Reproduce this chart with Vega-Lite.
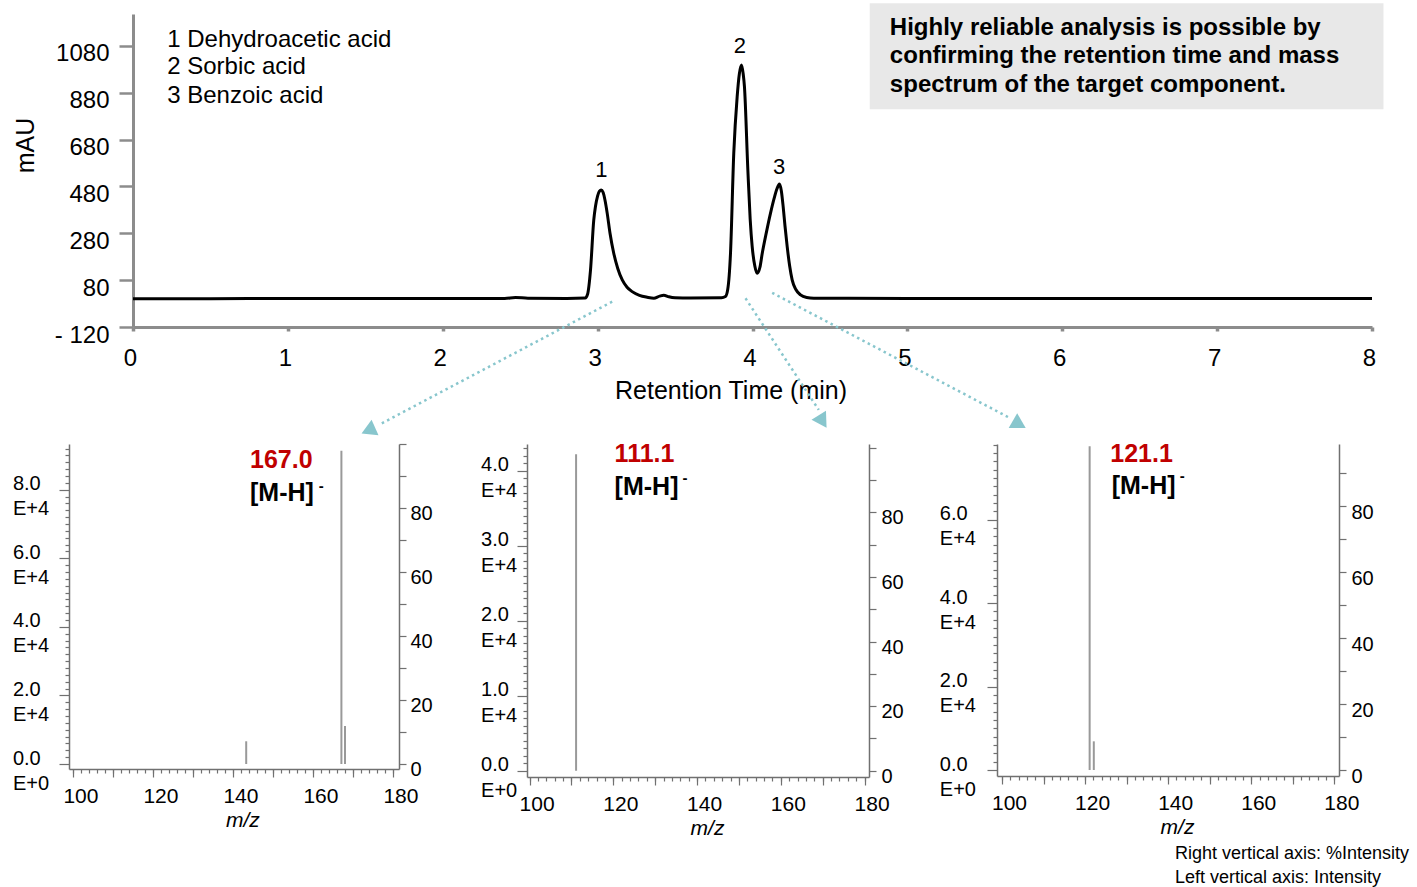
{
  "$schema": "https://vega.github.io/schema/vega-lite/v6.json",
  "background": "white",
  "padding": {"left": 12, "top": 3, "right": 0, "bottom": 0},
  "spacing": -8,
  "config": {
    "view": {"stroke": null},
    "font": "Liberation Sans",
    "axis": {"grid": false, "labelFlush": false, "labelOverlap": false, "labelColor": "#000000", "titleColor": "#000000", "titleFontWeight": "normal", "labelFont": "Liberation Sans", "titleFont": "Liberation Sans"}
  },
  "vconcat": [
    {
      "hconcat": [
        {"width": 44, "height": 10, "data": {"values": [{}]}, "mark": {"type": "point", "opacity": 0}},
        {
          "width": 1239,
          "height": 313,
          "layer": [
            {
              "data": {"values": [
                {"t": 0, "v": 1}, {"t": 0.5, "v": 1}, {"t": 1, "v": 1.5}, {"t": 1.5, "v": 1.5}, {"t": 2, "v": 2}, {"t": 2.4, "v": 2}, {"t": 2.47, "v": 6}, {"t": 2.55, "v": 3}, {"t": 2.8, "v": 2}, {"t": 2.92, "v": 4}, {"t": 2.935, "v": 20}, {"t": 2.954, "v": 123}, {"t": 2.975, "v": 336}, {"t": 2.986, "v": 394}, {"t": 3.0, "v": 440}, {"t": 3.012, "v": 460}, {"t": 3.023, "v": 465}, {"t": 3.035, "v": 455}, {"t": 3.048, "v": 420}, {"t": 3.062, "v": 365}, {"t": 3.08, "v": 280}, {"t": 3.104, "v": 195}, {"t": 3.13, "v": 130}, {"t": 3.159, "v": 81}, {"t": 3.19, "v": 50}, {"t": 3.223, "v": 31}, {"t": 3.27, "v": 15}, {"t": 3.32, "v": 7}, {"t": 3.363, "v": 3}, {"t": 3.4, "v": 12}, {"t": 3.427, "v": 16}, {"t": 3.46, "v": 9}, {"t": 3.5, "v": 5}, {"t": 3.6, "v": 4}, {"t": 3.8, "v": 5}, {"t": 3.825, "v": 10}, {"t": 3.84, "v": 40}, {"t": 3.858, "v": 195}, {"t": 3.879, "v": 621}, {"t": 3.901, "v": 863}, {"t": 3.915, "v": 960}, {"t": 3.929, "v": 998}, {"t": 3.94, "v": 960}, {"t": 3.948, "v": 906}, {"t": 3.97, "v": 550}, {"t": 3.985, "v": 340}, {"t": 3.998, "v": 223}, {"t": 4.015, "v": 140}, {"t": 4.03, "v": 109}, {"t": 4.048, "v": 135}, {"t": 4.063, "v": 195}, {"t": 4.09, "v": 285}, {"t": 4.116, "v": 365}, {"t": 4.14, "v": 430}, {"t": 4.158, "v": 470}, {"t": 4.174, "v": 490}, {"t": 4.186, "v": 462}, {"t": 4.198, "v": 394}, {"t": 4.21, "v": 310}, {"t": 4.224, "v": 223}, {"t": 4.24, "v": 140}, {"t": 4.256, "v": 81}, {"t": 4.28, "v": 40}, {"t": 4.31, "v": 17}, {"t": 4.35, "v": 6}, {"t": 4.396, "v": 3}, {"t": 5, "v": 2}, {"t": 6, "v": 2}, {"t": 7, "v": 2}, {"t": 8, "v": 2}
              ]},
              "mark": {"type": "line", "color": "#000000", "strokeWidth": 3, "interpolate": "monotone", "clip": false},
              "encoding": {
                "x": {"field": "t", "type": "quantitative", "scale": {"domain": [0, 8], "nice": false, "zero": false},
                  "axis": {"values": [0, 1, 2, 3, 4, 5, 6, 7, 8], "format": "d", "labelOverlap": false, "title": "Retention Time (min)", "titleFontSize": 25, "titleX": 597.5, "titleY": 71, "titleBaseline": "alphabetic", "titleAlign": "center", "labelFontSize": 24, "labelBaseline": "alphabetic", "labelPadding": 34, "labelOffset": -3, "tickSize": 4, "tickWidth": 3.5, "tickColor": "#8c8c8c", "domainColor": "#8c8c8c", "domainWidth": 3}},
                "y": {"field": "v", "type": "quantitative", "scale": {"domain": [-120, 1216], "nice": false, "zero": false},
                  "axis": {"values": [-120, 80, 280, 480, 680, 880, 1080], "format": "d", "labelOverlap": false, "labelExpr": "datum.value < 0 ? '- 120' : datum.label", "title": "mAU", "titleFontSize": 25, "titleX": -107.5, "titleY": 131, "titleAlign": "center", "titleBaseline": "middle", "titleAngle": 270, "labelFontSize": 24, "labelBaseline": "alphabetic", "labelOffset": 15, "labelPadding": 10, "tickSize": 14, "tickWidth": 2.5, "tickColor": "#8c8c8c", "domainColor": "#8c8c8c", "domainWidth": 3}}
              }
            },
            {
              "data": {"values": [{"x": 4.757, "x2": 8.074, "y": 809, "y2": 1262}]},
              "mark": {"type": "rect", "color": "#e8e8e8", "clip": false},
              "encoding": {
                "x": {"field": "x", "type": "quantitative", "scale": {"domain": [0, 8], "nice": false, "zero": false}},
                "x2": {"field": "x2"},
                "y": {"field": "y", "type": "quantitative", "scale": {"domain": [-120, 1216], "nice": false, "zero": false}},
                "y2": {"field": "y2"}
              }
            },
            {
              "data": {"values": [
                {"x": 4.887, "y": 1126.4, "t": "Highly reliable analysis is possible by"},
                {"x": 4.887, "y": 1005.6, "t": "confirming the retention time and mass"},
                {"x": 4.887, "y": 884.3, "t": "spectrum of the target component."}
              ]},
              "mark": {"type": "text", "align": "left", "baseline": "alphabetic", "fontSize": 24, "fontWeight": "bold", "color": "#000000", "clip": false},
              "encoding": {
                "x": {"field": "x", "type": "quantitative", "scale": {"domain": [0, 8], "nice": false, "zero": false}},
                "y": {"field": "y", "type": "quantitative", "scale": {"domain": [-120, 1216], "nice": false, "zero": false}},
                "text": {"field": "t"}
              }
            },
            {
              "data": {"values": [
                {"x": 0.221, "y": 1076.4, "t": "1 Dehydroacetic acid"},
                {"x": 0.221, "y": 960, "t": "2 Sorbic acid"},
                {"x": 0.221, "y": 837.4, "t": "3 Benzoic acid"}
              ]},
              "mark": {"type": "text", "align": "left", "baseline": "alphabetic", "fontSize": 24, "color": "#000000", "clip": false},
              "encoding": {
                "x": {"field": "x", "type": "quantitative", "scale": {"domain": [0, 8], "nice": false, "zero": false}},
                "y": {"field": "y", "type": "quantitative", "scale": {"domain": [-120, 1216], "nice": false, "zero": false}},
                "text": {"field": "t"}
              }
            },
            {
              "data": {"values": [
                {"x": 3.024, "y": 521.5, "t": "1"},
                {"x": 3.919, "y": 1048.3, "t": "2"},
                {"x": 4.172, "y": 533, "t": "3"}
              ]},
              "mark": {"type": "text", "align": "center", "baseline": "alphabetic", "fontSize": 22, "color": "#000000", "clip": false},
              "encoding": {
                "x": {"field": "x", "type": "quantitative", "scale": {"domain": [0, 8], "nice": false, "zero": false}},
                "y": {"field": "y", "type": "quantitative", "scale": {"domain": [-120, 1216], "nice": false, "zero": false}},
                "text": {"field": "t"}
              }
            },
            {
              "data": {"values": [
                {"x": 3.094, "y": -12, "x2": 1.587, "y2": -538},
                {"x": 3.955, "y": 2.5, "x2": 4.428, "y2": -474},
                {"x": 4.127, "y": 26, "x2": 5.666, "y2": -510}
              ]},
              "mark": {"type": "rule", "color": "#88c6cd", "strokeWidth": 2.5, "strokeDash": [2.5, 3.5], "clip": false},
              "encoding": {
                "x": {"field": "x", "type": "quantitative", "scale": {"domain": [0, 8], "nice": false, "zero": false}},
                "y": {"field": "y", "type": "quantitative", "scale": {"domain": [-120, 1216], "nice": false, "zero": false}},
                "x2": {"field": "x2"},
                "y2": {"field": "y2"}
              }
            },
            {
              "data": {"values": [{"x": 1.5355, "y": -546.8}]},
              "mark": {"type": "point", "shape": "triangle-up", "size": 290, "filled": true, "opacity": 1, "color": "#88c6cd", "angle": 6, "clip": false},
              "encoding": {
                "x": {"field": "x", "type": "quantitative", "scale": {"domain": [0, 8], "nice": false, "zero": false}},
                "y": {"field": "y", "type": "quantitative", "scale": {"domain": [-120, 1216], "nice": false, "zero": false}}
              }
            },
            {
              "data": {"values": [{"x": 4.452, "y": -505.4}]},
              "mark": {"type": "point", "shape": "triangle-up", "size": 290, "filled": true, "opacity": 1, "color": "#88c6cd", "angle": 28, "clip": false},
              "encoding": {
                "x": {"field": "x", "type": "quantitative", "scale": {"domain": [0, 8], "nice": false, "zero": false}},
                "y": {"field": "y", "type": "quantitative", "scale": {"domain": [-120, 1216], "nice": false, "zero": false}}
              }
            },
            {
              "data": {"values": [{"x": 5.709, "y": -520}]},
              "mark": {"type": "point", "shape": "triangle-up", "size": 290, "filled": true, "opacity": 1, "color": "#88c6cd", "angle": 0, "clip": false},
              "encoding": {
                "x": {"field": "x", "type": "quantitative", "scale": {"domain": [0, 8], "nice": false, "zero": false}},
                "y": {"field": "y", "type": "quantitative", "scale": {"domain": [-120, 1216], "nice": false, "zero": false}}
              }
            }
          ]
        }
      ],
      "spacing": 20,
      "bounds": "flush"
    },
    {
      "hconcat": [
        {
          "width": 330,
          "height": 325,
          "data": {"values": [{"mz": 143.2, "pct": 7.1}, {"mz": 167.0, "pct": 97.9}, {"mz": 167.9, "pct": 11.9}]},
          "layer": [
            {
              "mark": {"type": "rule", "color": "#999999", "strokeWidth": 2, "clip": false},
              "encoding": {
                "x": {"field": "mz", "type": "quantitative", "scale": {"domain": [98.9, 181.4], "nice": false, "zero": false},
                  "axis": {"orient": "bottom", "values": [100,110,120,130,140,150,160,170,180], "labelOverlap": false, "labelExpr": "datum.value % 20 === 0 ? datum.label : ''", "tickSize": 8, "labelPadding": 25, "labelBaseline": "alphabetic", "labelFontSize": 21, "labelOffset": 7, "title": "m/z", "titleFontStyle": "italic", "titleFontSize": 21, "titleX": 173.4, "titleY": 57, "titleBaseline": "alphabetic", "titleAlign": "center", "domainColor": "#707070", "domainWidth": 1.5, "tickColor": "#707070", "tickWidth": 1.2}},
                "y": {"field": "pct", "type": "quantitative", "scale": {"domain": [-1.5625, 100], "nice": false, "zero": false},
                  "axis": {"orient": "right", "values": [0,10,20,30,40,50,60,70,80,90,100], "labelOverlap": false, "labelExpr": "datum.value % 20 === 0 && datum.value < 100 ? datum.label : ''", "title": null, "tickSize": 7, "labelPadding": 4, "labelFontSize": 20, "labelBaseline": "alphabetic", "labelOffset": 11.5, "domainColor": "#707070", "domainWidth": 1.5, "tickColor": "#707070", "tickWidth": 1.2}},
                "y2": {"datum": 0}
              }
            },
            {
              "mark": {"type": "rule", "opacity": 0, "clip": false},
              "encoding": {
                "x": {"datum": 140, "type": "quantitative", "scale": {"domain": [98.9, 181.4], "nice": false, "zero": false},
                  "axis": {"orient": "bottom", "values": [100,102,104,106,108,110,112,114,116,118,120,122,124,126,128,130,132,134,136,138,140,142,144,146,148,150,152,154,156,158,160,162,164,166,168,170,172,174,176,178,180], "labels": false, "domain": false, "title": null, "tickSize": 4, "tickColor": "#707070", "tickWidth": 1.2}},
                "y": {"datum": 0, "type": "quantitative", "scale": {"domain": [-1458, 93320], "nice": false, "zero": false},
                  "axis": {"orient": "left", "values": [0,2000,4000,6000,8000,10000,12000,14000,16000,18000,20000,22000,24000,26000,28000,30000,32000,34000,36000,38000,40000,42000,44000,46000,48000,50000,52000,54000,56000,58000,60000,62000,64000,66000,68000,70000,72000,74000,76000,78000,80000,82000,84000,86000,88000,90000,92000], "labelOverlap": false, "labelExpr": "datum.value % 20000 === 0 ? [format(datum.value / 10000, '.1f'), datum.value === 0 ? 'E+0' : 'E+4'] : ''", "tickSize": {"condition": {"test": "datum.value % 20000 === 0", "value": 10}, "value": 4}, "labelAlign": "left", "labelPadding": 46.6, "labelBaseline": "alphabetic", "labelLineHeight": 25, "labelFontSize": 20, "title": null, "domainColor": "#707070", "domainWidth": 1.5, "tickColor": "#707070", "tickWidth": 1.2}}
              }
            },
            {
              "data": {"values": [{"mz": 144.15, "pct": 92.4, "t": "167.0"}]},
              "mark": {"type": "text", "align": "left", "baseline": "alphabetic", "fontSize": 25, "fontWeight": "bold", "color": "#c00000", "clip": false},
              "encoding": {
                "x": {"field": "mz", "type": "quantitative", "scale": {"domain": [98.9, 181.4], "nice": false, "zero": false}, "axis": null},
                "y": {"field": "pct", "type": "quantitative", "scale": {"domain": [-1.5625, 100], "nice": false, "zero": false}, "axis": null},
                "text": {"field": "t"}
              }
            },
            {
              "data": {"values": [{"mz": 144.15, "pct": 82.3, "t": "[M-H]"}]},
              "mark": {"type": "text", "align": "left", "baseline": "alphabetic", "fontSize": 25, "fontWeight": "bold", "color": "#000000", "clip": false},
              "encoding": {
                "x": {"field": "mz", "type": "quantitative", "scale": {"domain": [98.9, 181.4], "nice": false, "zero": false}, "axis": null},
                "y": {"field": "pct", "type": "quantitative", "scale": {"domain": [-1.5625, 100], "nice": false, "zero": false}, "axis": null},
                "text": {"field": "t"}
              }
            },
            {
              "data": {"values": [{"mz": 161.95, "pct": 87.0, "t": "-"}]},
              "mark": {"type": "text", "align": "center", "baseline": "middle", "fontSize": 15, "fontWeight": "bold", "color": "#000000", "clip": false},
              "encoding": {
                "x": {"field": "mz", "type": "quantitative", "scale": {"domain": [98.9, 181.4], "nice": false, "zero": false}, "axis": null},
                "y": {"field": "pct", "type": "quantitative", "scale": {"domain": [-1.5625, 100], "nice": false, "zero": false}, "axis": null},
                "text": {"field": "t"}
              }
            }
          ],
          "resolve": {"scale": {"x": "independent", "y": "independent"}, "axis": {"x": "independent", "y": "independent"}}
        },
        {
          "width": 342,
          "height": 333,
          "data": {"values": [{"mz": 111.1, "pct": 98.0}]},
          "layer": [
            {
              "mark": {"type": "rule", "color": "#999999", "strokeWidth": 2, "clip": false},
              "encoding": {
                "x": {"field": "mz", "type": "quantitative", "scale": {"domain": [99.379, 181.05], "nice": false, "zero": false},
                  "axis": {"orient": "bottom", "values": [100,110,120,130,140,150,160,170,180], "labelOverlap": false, "labelExpr": "datum.value % 20 === 0 ? datum.label : ''", "tickSize": 8, "labelPadding": 25, "labelBaseline": "alphabetic", "labelFontSize": 21, "labelOffset": 7, "title": "m/z", "titleFontStyle": "italic", "titleFontSize": 21, "titleX": 180, "titleY": 57, "titleBaseline": "alphabetic", "titleAlign": "center", "domainColor": "#707070", "domainWidth": 1.5, "tickColor": "#707070", "tickWidth": 1.2}},
                "y": {"field": "pct", "type": "quantitative", "scale": {"domain": [-1.95, 101.15], "nice": false, "zero": false},
                  "axis": {"orient": "right", "values": [0,10,20,30,40,50,60,70,80,90,100], "labelOverlap": false, "labelExpr": "datum.value % 20 === 0 && datum.value < 100 ? datum.label : ''", "title": null, "tickSize": 7, "labelPadding": 5, "labelFontSize": 20, "labelBaseline": "alphabetic", "labelOffset": 11.5, "domainColor": "#707070", "domainWidth": 1.5, "tickColor": "#707070", "tickWidth": 1.2}},
                "y2": {"datum": 0}
              }
            },
            {
              "mark": {"type": "rule", "opacity": 0, "clip": false},
              "encoding": {
                "x": {"datum": 140, "type": "quantitative", "scale": {"domain": [99.379, 181.05], "nice": false, "zero": false},
                  "axis": {"orient": "bottom", "values": [100,102,104,106,108,110,112,114,116,118,120,122,124,126,128,130,132,134,136,138,140,142,144,146,148,150,152,154,156,158,160,162,164,166,168,170,172,174,176,178,180], "labels": false, "domain": false, "title": null, "tickSize": 4, "tickColor": "#707070", "tickWidth": 1.2}},
                "y": {"datum": 0, "type": "quantitative", "scale": {"domain": [-840, 43562], "nice": false, "zero": false},
                  "axis": {"orient": "left", "values": [0,1000,2000,3000,4000,5000,6000,7000,8000,9000,10000,11000,12000,13000,14000,15000,16000,17000,18000,19000,20000,21000,22000,23000,24000,25000,26000,27000,28000,29000,30000,31000,32000,33000,34000,35000,36000,37000,38000,39000,40000,41000,42000,43000], "labelOverlap": false, "labelExpr": "datum.value % 10000 === 0 ? [format(datum.value / 10000, '.1f'), datum.value === 0 ? 'E+0' : 'E+4'] : ''", "tickSize": {"condition": {"test": "datum.value % 10000 === 0", "value": 10}, "value": 4}, "labelAlign": "left", "labelPadding": 36.4, "labelBaseline": "alphabetic", "labelLineHeight": 26, "labelFontSize": 20, "title": null, "domainColor": "#707070", "domainWidth": 1.5, "tickColor": "#707070", "tickWidth": 1.2}}
              }
            },
            {
              "data": {"values": [{"mz": 120.3, "pct": 95.5, "t": "111.1"}]},
              "mark": {"type": "text", "align": "left", "baseline": "alphabetic", "fontSize": 25, "fontWeight": "bold", "color": "#c00000", "clip": false},
              "encoding": {
                "x": {"field": "mz", "type": "quantitative", "scale": {"domain": [99.379, 181.05], "nice": false, "zero": false}, "axis": null},
                "y": {"field": "pct", "type": "quantitative", "scale": {"domain": [-1.95, 101.15], "nice": false, "zero": false}, "axis": null},
                "text": {"field": "t"}
              }
            },
            {
              "data": {"values": [{"mz": 120.3, "pct": 85.4, "t": "[M-H]"}]},
              "mark": {"type": "text", "align": "left", "baseline": "alphabetic", "fontSize": 25, "fontWeight": "bold", "color": "#000000", "clip": false},
              "encoding": {
                "x": {"field": "mz", "type": "quantitative", "scale": {"domain": [99.379, 181.05], "nice": false, "zero": false}, "axis": null},
                "y": {"field": "pct", "type": "quantitative", "scale": {"domain": [-1.95, 101.15], "nice": false, "zero": false}, "axis": null},
                "text": {"field": "t"}
              }
            },
            {
              "data": {"values": [{"mz": 137.1, "pct": 90.5, "t": "-"}]},
              "mark": {"type": "text", "align": "center", "baseline": "middle", "fontSize": 15, "fontWeight": "bold", "color": "#000000", "clip": false},
              "encoding": {
                "x": {"field": "mz", "type": "quantitative", "scale": {"domain": [99.379, 181.05], "nice": false, "zero": false}, "axis": null},
                "y": {"field": "pct", "type": "quantitative", "scale": {"domain": [-1.95, 101.15], "nice": false, "zero": false}, "axis": null},
                "text": {"field": "t"}
              }
            }
          ],
          "resolve": {"scale": {"x": "independent", "y": "independent"}, "axis": {"x": "independent", "y": "independent"}}
        },
        {
          "width": 342,
          "height": 332,
          "data": {"values": [{"mz": 121.1, "pct": 98.2}, {"mz": 122.1, "pct": 8.7}]},
          "layer": [
            {
              "mark": {"type": "rule", "color": "#999999", "strokeWidth": 2, "clip": false},
              "encoding": {
                "x": {"field": "mz", "type": "quantitative", "scale": {"domain": [98.796, 181.13], "nice": false, "zero": false},
                  "axis": {"orient": "bottom", "values": [100,110,120,130,140,150,160,170,180], "labelOverlap": false, "labelExpr": "datum.value % 20 === 0 ? datum.label : ''", "tickSize": 8, "labelPadding": 25, "labelBaseline": "alphabetic", "labelFontSize": 21, "labelOffset": 7, "title": "m/z", "titleFontStyle": "italic", "titleFontSize": 21, "titleX": 180, "titleY": 57, "titleBaseline": "alphabetic", "titleAlign": "center", "domainColor": "#707070", "domainWidth": 1.5, "tickColor": "#707070", "tickWidth": 1.2}},
                "y": {"field": "pct", "type": "quantitative", "scale": {"domain": [-1.82, 98.91], "nice": false, "zero": false},
                  "axis": {"orient": "right", "values": [0,10,20,30,40,50,60,70,80,90,100], "labelOverlap": false, "labelExpr": "datum.value % 20 === 0 && datum.value < 100 ? datum.label : ''", "title": null, "tickSize": 7, "labelPadding": 5, "labelFontSize": 20, "labelBaseline": "alphabetic", "labelOffset": 12, "domainColor": "#707070", "domainWidth": 1.5, "tickColor": "#707070", "tickWidth": 1.2}},
                "y2": {"datum": 0}
              }
            },
            {
              "mark": {"type": "rule", "opacity": 0, "clip": false},
              "encoding": {
                "x": {"datum": 140, "type": "quantitative", "scale": {"domain": [98.796, 181.13], "nice": false, "zero": false},
                  "axis": {"orient": "bottom", "values": [100,102,104,106,108,110,112,114,116,118,120,122,124,126,128,130,132,134,136,138,140,142,144,146,148,150,152,154,156,158,160,162,164,166,168,170,172,174,176,178,180], "labels": false, "domain": false, "title": null, "tickSize": 4, "tickColor": "#707070", "tickWidth": 1.2}},
                "y": {"datum": 0, "type": "quantitative", "scale": {"domain": [-1438, 78145], "nice": false, "zero": false},
                  "axis": {"orient": "left", "values": [0,2000,4000,6000,8000,10000,12000,14000,16000,18000,20000,22000,24000,26000,28000,30000,32000,34000,36000,38000,40000,42000,44000,46000,48000,50000,52000,54000,56000,58000,60000,62000,64000,66000,68000,70000,72000,74000,76000,78000], "labelOverlap": false, "labelExpr": "datum.value % 20000 === 0 ? [format(datum.value / 10000, '.1f'), datum.value === 0 ? 'E+0' : 'E+4'] : ''", "tickSize": {"condition": {"test": "datum.value % 20000 === 0", "value": 10}, "value": 4}, "labelAlign": "left", "labelPadding": 47.7, "labelBaseline": "alphabetic", "labelLineHeight": 25, "labelFontSize": 20, "title": null, "domainColor": "#707070", "domainWidth": 1.5, "tickColor": "#707070", "tickWidth": 1.2}}
              }
            },
            {
              "data": {"values": [{"mz": 126.07, "pct": 93.4, "t": "121.1"}]},
              "mark": {"type": "text", "align": "left", "baseline": "alphabetic", "fontSize": 25, "fontWeight": "bold", "color": "#c00000", "clip": false},
              "encoding": {
                "x": {"field": "mz", "type": "quantitative", "scale": {"domain": [98.796, 181.13], "nice": false, "zero": false}, "axis": null},
                "y": {"field": "pct", "type": "quantitative", "scale": {"domain": [-1.82, 98.91], "nice": false, "zero": false}, "axis": null},
                "text": {"field": "t"}
              }
            },
            {
              "data": {"values": [{"mz": 126.4, "pct": 83.7, "t": "[M-H]"}]},
              "mark": {"type": "text", "align": "left", "baseline": "alphabetic", "fontSize": 25, "fontWeight": "bold", "color": "#000000", "clip": false},
              "encoding": {
                "x": {"field": "mz", "type": "quantitative", "scale": {"domain": [98.796, 181.13], "nice": false, "zero": false}, "axis": null},
                "y": {"field": "pct", "type": "quantitative", "scale": {"domain": [-1.82, 98.91], "nice": false, "zero": false}, "axis": null},
                "text": {"field": "t"}
              }
            },
            {
              "data": {"values": [{"mz": 143.4, "pct": 89.1, "t": "-"}]},
              "mark": {"type": "text", "align": "center", "baseline": "middle", "fontSize": 15, "fontWeight": "bold", "color": "#000000", "clip": false},
              "encoding": {
                "x": {"field": "mz", "type": "quantitative", "scale": {"domain": [98.796, 181.13], "nice": false, "zero": false}, "axis": null},
                "y": {"field": "pct", "type": "quantitative", "scale": {"domain": [-1.82, 98.91], "nice": false, "zero": false}, "axis": null},
                "text": {"field": "t"}
              }
            },
            {
              "data": {"values": [
                {"mz": 141.65, "pct": -27, "t": "Right vertical axis: %Intensity"},
                {"mz": 141.65, "pct": -34.3, "t": "Left vertical axis: Intensity"}
              ]},
              "mark": {"type": "text", "align": "left", "baseline": "alphabetic", "fontSize": 18, "color": "#000000", "clip": false},
              "encoding": {
                "x": {"field": "mz", "type": "quantitative", "scale": {"domain": [98.796, 181.13], "nice": false, "zero": false}, "axis": null},
                "y": {"field": "pct", "type": "quantitative", "scale": {"domain": [-1.82, 98.91], "nice": false, "zero": false}, "axis": null},
                "text": {"field": "t"}
              }
            }
          ],
          "resolve": {"scale": {"x": "independent", "y": "independent"}, "axis": {"x": "independent", "y": "independent"}}
        }
      ],
      "spacing": 128,
      "bounds": "flush"
    }
  ]
}
